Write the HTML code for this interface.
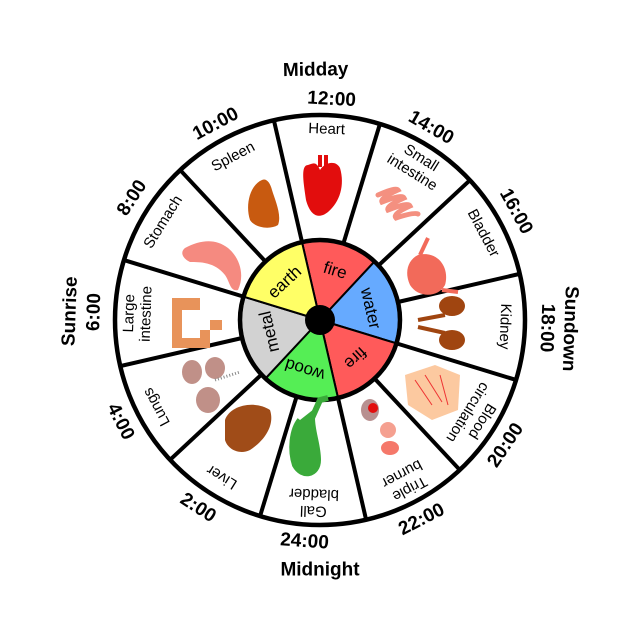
<!DOCTYPE html>
<html><head><meta charset="utf-8"><style>
html,body{margin:0;padding:0;background:#fff;}
svg{display:block;font-family:"Liberation Sans","DejaVu Sans",sans-serif;}
.t{font-weight:bold;font-size:19px;text-anchor:middle;dominant-baseline:central;}
.s{font-size:15px;text-anchor:middle;dominant-baseline:central;}
.e{font-size:17px;text-anchor:middle;dominant-baseline:central;}
</style></head><body>
<svg width="640" height="640" viewBox="0 0 640 640">
<rect width="640" height="640" fill="#fff"/>
<g transform="translate(320,320)">
<circle r="205" fill="#fff" stroke="#000" stroke-width="4.5"/>
<g stroke="#000" stroke-width="4">
<g transform="rotate(17)"><line y1="-80" y2="-205"/></g>
<g transform="rotate(47)"><line y1="-80" y2="-205"/></g>
<g transform="rotate(77)"><line y1="-80" y2="-205"/></g>
<g transform="rotate(107)"><line y1="-80" y2="-205"/></g>
<g transform="rotate(137)"><line y1="-80" y2="-205"/></g>
<g transform="rotate(167)"><line y1="-80" y2="-205"/></g>
<g transform="rotate(197)"><line y1="-80" y2="-205"/></g>
<g transform="rotate(227)"><line y1="-80" y2="-205"/></g>
<g transform="rotate(257)"><line y1="-80" y2="-205"/></g>
<g transform="rotate(287)"><line y1="-80" y2="-205"/></g>
<g transform="rotate(317)"><line y1="-80" y2="-205"/></g>
<g transform="rotate(347)"><line y1="-80" y2="-205"/></g>
</g>
<g stroke="#000" stroke-width="2">
<path d="M0,0 L-17.8,-77.0 A79,79 0 0 1 53.9,-57.8 Z" fill="#ff5a5a"/>
<path d="M0,0 L53.9,-57.8 A79,79 0 0 1 75.5,23.1 Z" fill="#66aaff"/>
<path d="M0,0 L75.5,23.1 A79,79 0 0 1 17.8,77.0 Z" fill="#ff5a5a"/>
<path d="M0,0 L17.8,77.0 A79,79 0 0 1 -53.9,57.8 Z" fill="#55ee55"/>
<path d="M0,0 L-53.9,57.8 A79,79 0 0 1 -75.5,-23.1 Z" fill="#d2d2d2"/>
<path d="M0,0 L-75.5,-23.1 A79,79 0 0 1 -17.8,-77.0 Z" fill="#ffff66"/>
</g>
<circle r="80" fill="none" stroke="#000" stroke-width="4.5"/>
<circle r="15" fill="#000"/>
<g class="e">
<text transform="rotate(17) translate(0,-52)">fire</text>
<text transform="rotate(77) translate(0,-52)">water</text>
<text transform="rotate(137) translate(0,-52)">fire</text>
<text transform="rotate(197) translate(0,-52)">wood</text>
<text transform="rotate(257) translate(0,-52)">metal</text>
<text transform="rotate(317) translate(0,-52)">earth</text>
</g>
<g class="s">
<text transform="rotate(2) translate(0,-191)">Heart</text>
<text transform="rotate(32) translate(0,-191)">Small</text>
<text transform="rotate(32) translate(0,-174)">intestine</text>
<text transform="rotate(62) translate(0,-185)">Bladder</text>
<text transform="rotate(92) translate(0,-185)">Kidney</text>
<text transform="rotate(122) translate(0,-191)">Blood</text>
<text transform="rotate(122) translate(0,-174)">circulation</text>
<text transform="rotate(152) translate(0,-191)">Triple</text>
<text transform="rotate(152) translate(0,-174)">burner</text>
<text transform="rotate(182) translate(0,-191)">Gall</text>
<text transform="rotate(182) translate(0,-174)">bladder</text>
<text transform="rotate(212) translate(0,-185)">Liver</text>
<text transform="rotate(242) translate(0,-185)">Lungs</text>
<text transform="rotate(272) translate(0,-191)">Large</text>
<text transform="rotate(272) translate(0,-174)">intestine</text>
<text transform="rotate(302) translate(0,-185)">Stomach</text>
<text transform="rotate(332) translate(0,-185)">Spleen</text>
</g>
<g class="t">
<text transform="rotate(3) translate(0,-221)">12:00</text>
<text transform="rotate(-1) translate(0,-250)">Midday</text>
<text transform="rotate(30) translate(0,-222)">14:00</text>
<text transform="rotate(61) translate(0,-224)">16:00</text>
<text transform="rotate(92) translate(0,-227)">18:00</text>
<text transform="rotate(92) translate(0,-250)">Sundown</text>
<text transform="rotate(124) translate(0,-224) rotate(180)">20:00</text>
<text transform="rotate(153) translate(0,-224) rotate(180)">22:00</text>
<text transform="rotate(184) translate(0,-222) rotate(180)">24:00</text>
<text transform="rotate(180) translate(0,-250) rotate(180)">Midnight</text>
<text transform="rotate(213) translate(0,-224) rotate(180)">2:00</text>
<text transform="rotate(243) translate(0,-224) rotate(180)">4:00</text>
<text transform="rotate(272) translate(0,-226)">6:00</text>
<text transform="rotate(272) translate(0,-250)">Sunrise</text>
<text transform="rotate(303) translate(0,-224)">8:00</text>
<text transform="rotate(332) translate(0,-222)">10:00</text>
</g>
</g>
<path d="M308,165 C300,165 304,185 306,200 C310,215 318,220 328,212 C340,202 345,185 340,168 C336,160 325,162 320,170 C316,160 312,164 308,165 Z" fill="#e20d0d"/>
<rect x="318" y="155" width="4" height="12" fill="#e20d0d"/><rect x="324" y="155" width="4" height="12" fill="#e20d0d"/>
<path d="M262,180 C250,185 245,205 250,220 C255,228 270,230 278,225 C282,215 275,200 272,190 C270,182 266,178 262,180 Z" fill="#c85a10"/>
<g stroke="#f49080" stroke-width="5" fill="none" stroke-linecap="round">
<path d="M378,195 q18,-8 20,-5 q-18,8 -16,12 q20,-8 22,-4 q-18,8 -16,12 q20,-8 22,-4 q-18,8 -14,12 q18,-6 22,-4"/>
</g>
<path d="M185,248 C200,240 215,238 228,248 C240,258 245,275 238,290 C230,292 230,282 225,275 C215,262 200,262 190,262 C182,258 180,252 185,248 Z" fill="#f58a80"/>
<path d="M418,255 C438,250 450,268 445,285 C438,298 418,298 410,285 C404,272 408,260 418,255 Z" fill="#f26a5a"/>
<path d="M420,255 L428,238" stroke="#f26a5a" stroke-width="4"/>
<path d="M442,290 L458,292" stroke="#f26a5a" stroke-width="4"/>
<ellipse cx="452" cy="306" rx="13" ry="10" fill="#a04510"/>
<ellipse cx="452" cy="340" rx="13" ry="10" fill="#a04510"/>
<path d="M418,320 L445,315 M418,327 L445,333" stroke="#a04510" stroke-width="4"/>
<path d="M405,375 L435,365 L460,375 L458,410 L432,420 L408,405 Z" fill="#fcc9a0"/>
<g stroke="#e33" stroke-width="1" fill="none"><path d="M415,380 L432,405 M425,375 L442,402 M440,375 L448,405"/></g>
<ellipse cx="370" cy="410" rx="9" ry="11" fill="#b89090"/>
<circle cx="373" cy="408" r="5" fill="#e20d0d"/>
<ellipse cx="388" cy="430" rx="8" ry="8" fill="#f5a090"/>
<ellipse cx="390" cy="448" rx="9" ry="7" fill="#f5786a"/>
<path d="M300,420 C292,430 290,450 295,465 C302,478 318,475 318,460 C318,445 312,432 312,418 L320,400 L328,398" stroke="#3aaa3a" stroke-width="6" fill="#3aaa3a"/>
<path d="M225,420 C230,405 255,400 270,410 C275,425 265,440 250,450 C240,455 228,450 225,440 Z" fill="#a04c18"/>
<ellipse cx="192" cy="372" rx="10" ry="12" fill="#c09088"/>
<ellipse cx="215" cy="368" rx="10" ry="11" fill="#c09088"/>
<ellipse cx="208" cy="400" rx="12" ry="13" fill="#c09088"/>
<path d="M215,380 L240,372" stroke="#888" stroke-width="3" stroke-dasharray="1 2"/>
<path d="M172,298 L200,298 L200,310 L182,310 L182,338 L200,338 L200,330 L222,330 L222,320 L210,320 L210,340 L210,348 L172,348 Z" fill="#e8935a"/>
</svg>
</body></html>
